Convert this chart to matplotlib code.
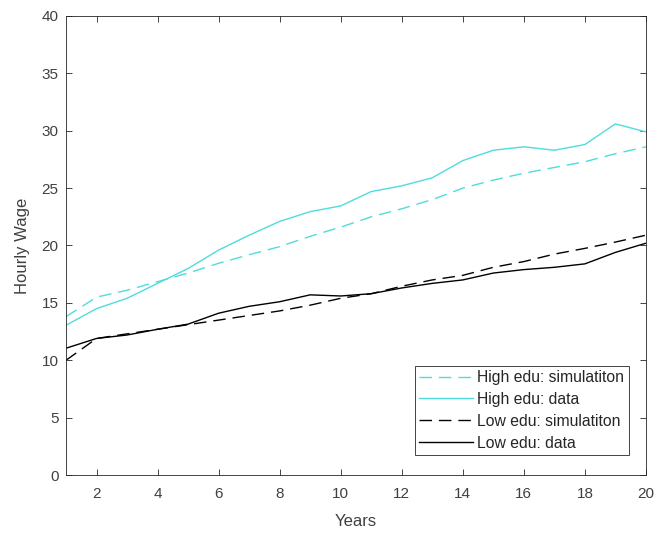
import matplotlib.pyplot as plt
import numpy as np

plt.rcParams['font.family'] = ['Liberation Sans', 'DejaVu Sans']

# Anos de experiência e salários por hora
years = np.arange(1, 21)
high_sim = [13.8, 15.5, 16.1, 16.85, 17.6, 18.45, 19.2, 19.9, 20.8, 21.6,
            22.5, 23.2, 24.0, 25.0, 25.7, 26.3, 26.8, 27.3, 28.0, 28.6]
high_data = [13.05, 14.5, 15.4, 16.7, 18.0, 19.6, 20.9, 22.1, 22.95, 23.45,
             24.7, 25.2, 25.9, 27.4, 28.3, 28.6, 28.3, 28.8, 30.6, 29.9]
low_sim = [10.0, 11.9, 12.3, 12.7, 13.1, 13.5, 13.9, 14.3, 14.8, 15.4,
           15.8, 16.45, 17.0, 17.4, 18.1, 18.6, 19.25, 19.75, 20.3, 20.9]
low_data = [11.05, 11.9, 12.2, 12.7, 13.15, 14.1, 14.7, 15.1, 15.7, 15.6,
            15.8, 16.3, 16.7, 17.0, 17.6, 17.9, 18.1, 18.4, 19.4, 20.2]

cyan = '#4fdcdc'
grey = '#262626'
text_grey = '#404040'
dashes = (0, (9, 5))

fig = plt.figure(figsize=(6.59, 5.33), dpi=100)
ax = fig.add_axes([0.1002, 0.1088, 0.8800, 0.8612])

ax.plot(years, high_sim, color=cyan, linestyle=dashes, linewidth=1.0,
        label='High edu: simulatiton')
ax.plot(years, high_data, color=cyan, linestyle='-', linewidth=1.0,
        label='High edu: data')
ax.plot(years, low_sim, color='black', linestyle=dashes, linewidth=1.0,
        label='Low edu: simulatiton')
ax.plot(years, low_data, color='black', linestyle='-', linewidth=1.0,
        label='Low edu: data')

ax.set_xlim(1, 20)
ax.set_ylim(0, 40)
ax.set_xticks(np.arange(2, 21, 2))
ax.set_yticks(np.arange(0, 41, 5))
ax.tick_params(direction='in', top=True, right=True, length=4, width=0.6,
               colors=grey, labelsize=11, labelcolor=text_grey)
ax.tick_params(axis='x', pad=8.5)
ax.tick_params(axis='y', pad=5.5)
for spine in ax.spines.values():
    spine.set_color(grey)
    spine.set_linewidth(0.6)

ax.set_xlabel('Years', fontsize=12, color=text_grey)
ax.set_ylabel('Hourly Wage', fontsize=12, color=text_grey)
ax.xaxis.set_label_coords(0.5, -0.086)
ax.yaxis.set_label_coords(-0.062, 0.5)

leg = ax.legend(loc='lower right', bbox_to_anchor=(0.970, 0.0436),
                borderaxespad=0, fontsize=11.3, handlelength=3.4,
                handletextpad=0.3, labelspacing=0.44, borderpad=0.27,
                fancybox=False, framealpha=1)
leg.get_frame().set_edgecolor(grey)
leg.get_frame().set_linewidth(0.6)
for t in leg.get_texts():
    t.set_color(grey)

plt.savefig('out.png', dpi=100)
